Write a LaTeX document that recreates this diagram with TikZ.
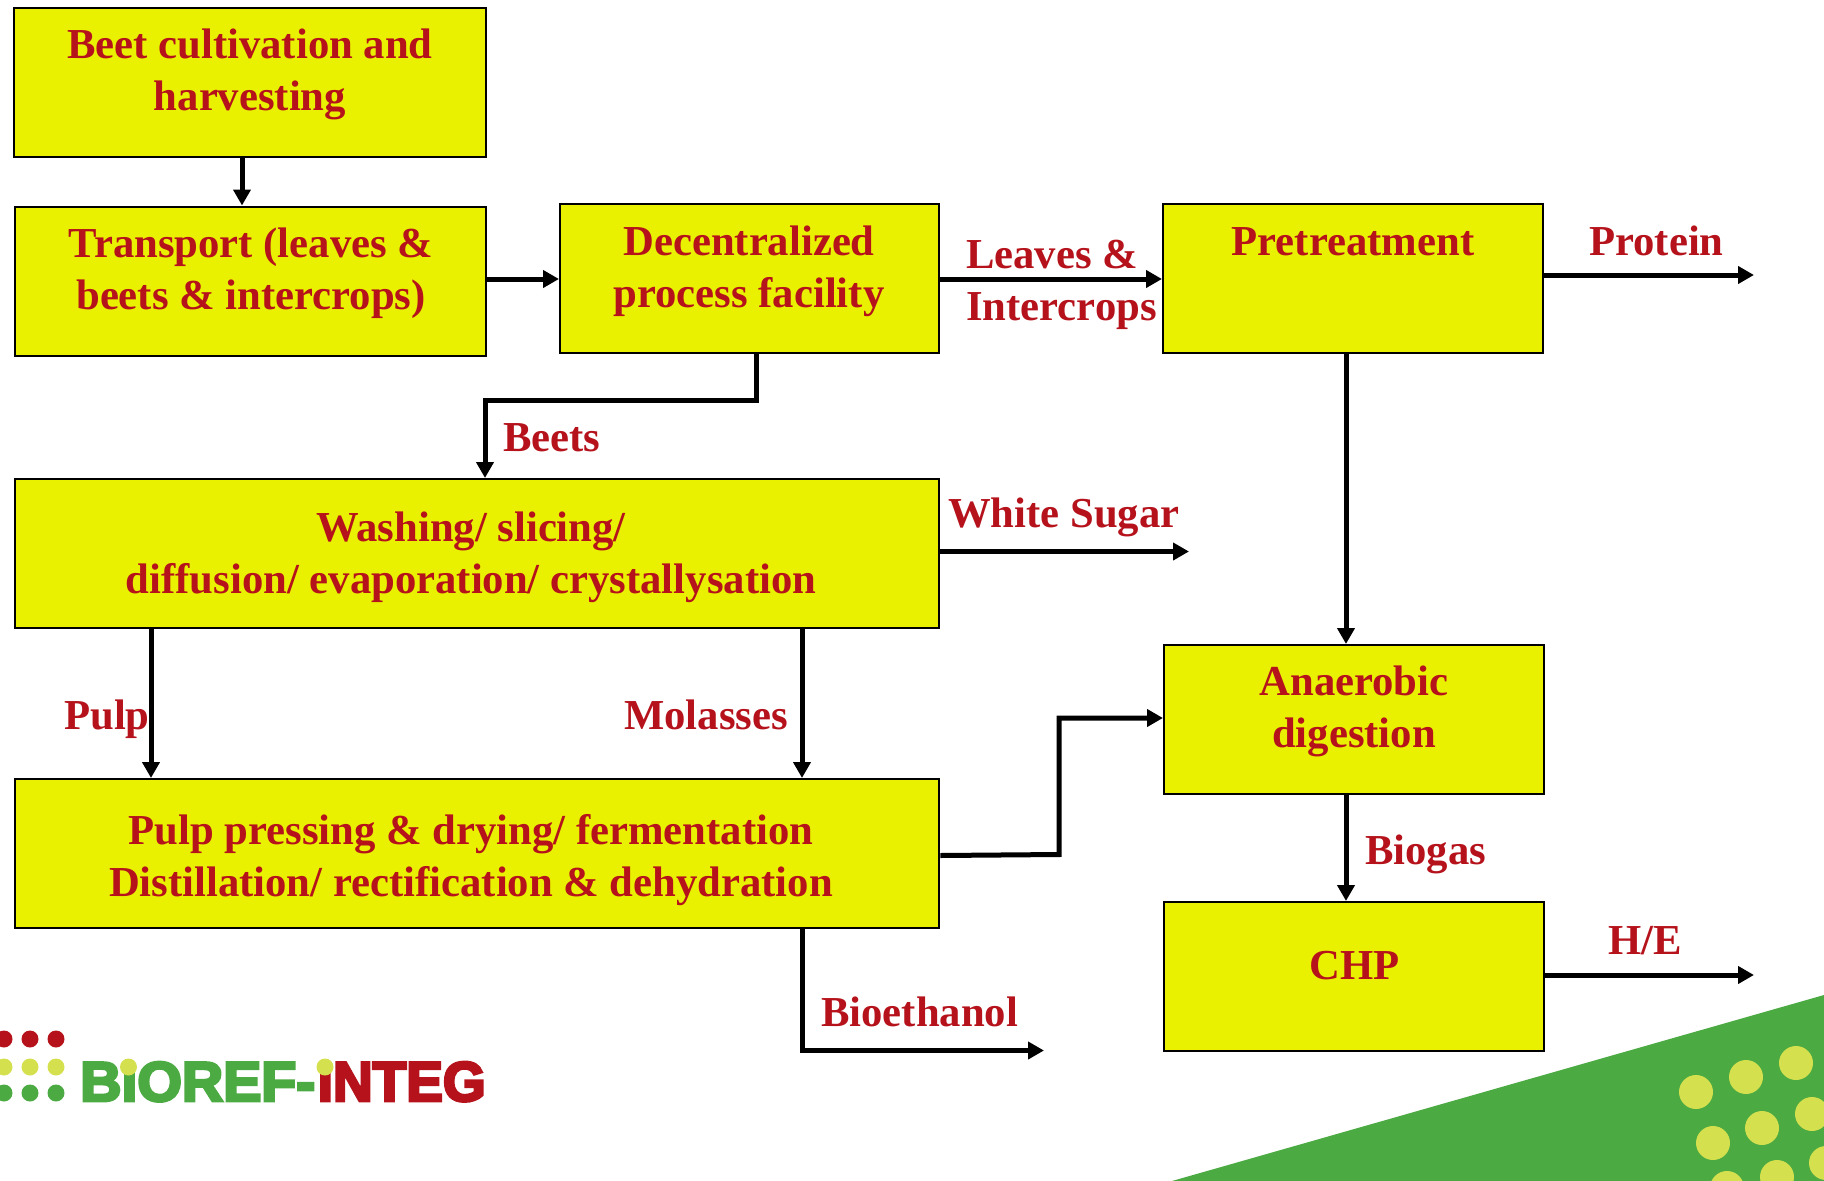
\documentclass[tikz,border=0pt]{standalone}
\usepackage{fontspec}
\usepackage{graphicx}
\setmainfont{Liberation Serif}
\newfontfamily\logofont{Liberation Sans}[BoldFont={Liberation Sans Bold},BoldFeatures={FakeBold=5}]
\usetikzlibrary{arrows.meta}
\definecolor{boxyellow}{HTML}{E9F100}
\definecolor{labelred}{HTML}{B5121B}
\definecolor{leafgreen}{HTML}{4BAA42}
\definecolor{dotyellow}{HTML}{D5E04E}
\tikzset{
  procbox/.style={draw=black,fill=boxyellow,line width=2.4pt,inner sep=0pt,anchor=north west},
  boxtext/.style={font=\fontsize{42.7}{52}\selectfont\bfseries,text=labelred,align=center,inner sep=0pt,anchor=base},
  flowlabel/.style={font=\fontsize{42.7}{52}\selectfont\bfseries,text=labelred,align=left,inner sep=0pt,anchor=base west},
  flow/.style={draw=black,line width=5pt,-{Triangle[length=16pt,width=17pt]}},
  logodot/.style={circle,inner sep=0pt,minimum size=17pt}
}
\begin{document}
\begin{tikzpicture}[x=1pt,y=-1pt]
\useasboundingbox (0,0) rectangle (1824,1181);
% decoration
\begin{scope}
\clip (0,0) rectangle (1824,1181);
\fill[leafgreen] (1172,1181) -- (1824,995) -- (1824,1181) -- cycle;
\foreach \px/\py in {1696/1092,1746/1077,1796/1063,1713/1143,1762/1128,1812/1114,1777/1177,1826/1163,1727/1188}
  \fill[dotyellow] (\px,\py) circle (17pt);
\end{scope}
% boxes
\node[procbox,minimum width=472pt,minimum height=149pt] (beet) at (13,6.5) {};
\node[procbox,minimum width=471pt,minimum height=149pt] (transport) at (14,205.5) {};
\node[procbox,minimum width=379pt,minimum height=149pt] (facility) at (559,203) {};
\node[procbox,minimum width=380pt,minimum height=149pt] (pretreat) at (1162,203) {};
\node[procbox,minimum width=924pt,minimum height=149pt] (washing) at (14,478) {};
\node[procbox,minimum width=924pt,minimum height=149pt] (pulpbox) at (14,778) {};
\node[procbox,minimum width=380pt,minimum height=149pt] (anaerobic) at (1163,644) {};
\node[procbox,minimum width=380pt,minimum height=149pt] (chp) at (1163,901) {};
% box texts
\node[boxtext] (tbeet) at (250,110) {Beet cultivation and\\harvesting};
\node[boxtext] (ttransport) at (251,309) {Transport (leaves \&\\beets \& intercrops)};
\node[boxtext] (tfacility) at (749,307) {Decentralized\\process facility};
\node[boxtext] (tpretreat) at (1353,255) {Pretreatment};
\node[boxtext] (twashing) at (471,593) {Washing/ slicing/\\diffusion/ evaporation/ crystallysation};
\node[boxtext] (tpulpbox) at (471,896) {Pulp pressing \& drying/ fermentation\\Distillation/ rectification \& dehydration};
\node[boxtext] (tanaerobic) at (1354,747.5) {Anaerobic\\digestion};
\node[boxtext] (tchp) at (1355,979) {CHP};
% free ends
\coordinate (endprotein) at (1754,275);
\coordinate (endsugar) at (1189,551.5);
\coordinate (endethanol) at (1044,1050.5);
\coordinate (endhe) at (1754,975);
% connectors
\draw[flow] (beet.south -| 242,0) -- (transport.north -| 242,0);
\draw[flow] (transport.east |- 0,279) -- (facility.west |- 0,279);
\draw[flow] (facility.east |- 0,279) -- (pretreat.west |- 0,279);
\draw[flow] (pretreat.east |- endprotein) -- (endprotein);
\draw[flow] (facility.south -| 756,0) -- (756,400.5) -- (485,400.5) -- (washing.north -| 485,0);
\draw[flow] (pretreat.south -| 1346,0) -- (anaerobic.north -| 1346,0);
\draw[flow] (washing.east |- endsugar) -- (endsugar);
\draw[flow] (washing.south -| 151,0) -- (pulpbox.north -| 151,0);
\draw[flow] (washing.south -| 802,0) -- (pulpbox.north -| 802,0);
\draw[flow] (pulpbox.east |- 0,855.5) -- (1059,854.5) -- (1059,718) -- (anaerobic.west |- 0,718);
\draw[flow] (pulpbox.south -| 802,0) -- (802,1050.5) -- (endethanol);
\draw[flow] (anaerobic.south -| 1346,0) -- (chp.north -| 1346,0);
\draw[flow] (chp.east |- endhe) -- (endhe);
% labels
\node[flowlabel] (lleaves) at (966,320) {Leaves \&\\Intercrops};
\node[flowlabel] (lprotein) at (1589,255.5) {Protein};
\node[flowlabel] (lbeets) at (503,451) {Beets};
\node[flowlabel] (lsugar) at (948,527) {White Sugar};
\node[flowlabel] (lpulp) at (64,729) {Pulp};
\node[flowlabel] (lmolasses) at (624,729) {Molasses};
\node[flowlabel] (lethanol) at (821,1026) {Bioethanol};
\node[flowlabel] (lbiogas) at (1365,864) {Biogas};
\node[flowlabel] (lhe) at (1608,954) {H/E};
% logo
\foreach \px in {4,30,56} {
  \node[logodot,fill=labelred] (dr\px) at (\px,1039) {};
  \node[logodot,fill=dotyellow] (dy\px) at (\px,1067) {};
  \node[logodot,fill=leafgreen] (dg\px) at (\px,1093) {};
}
\node[inner sep=0pt,anchor=base west,text=leafgreen] (logoa) at (80,1101) {\resizebox{235pt}{39pt}{\logofont\bfseries B\char"0131 OREF-}};
\node[inner sep=0pt,anchor=base west,text=labelred] (logob) at (317.5,1101) {\resizebox{168pt}{39pt}{\logofont\bfseries\char"0131 NTEG}};
\node[logodot,fill=dotyellow] (idota) at (128.5,1067) {};
\node[logodot,fill=dotyellow] (idotb) at (325,1067) {};
\end{tikzpicture}
\end{document}
